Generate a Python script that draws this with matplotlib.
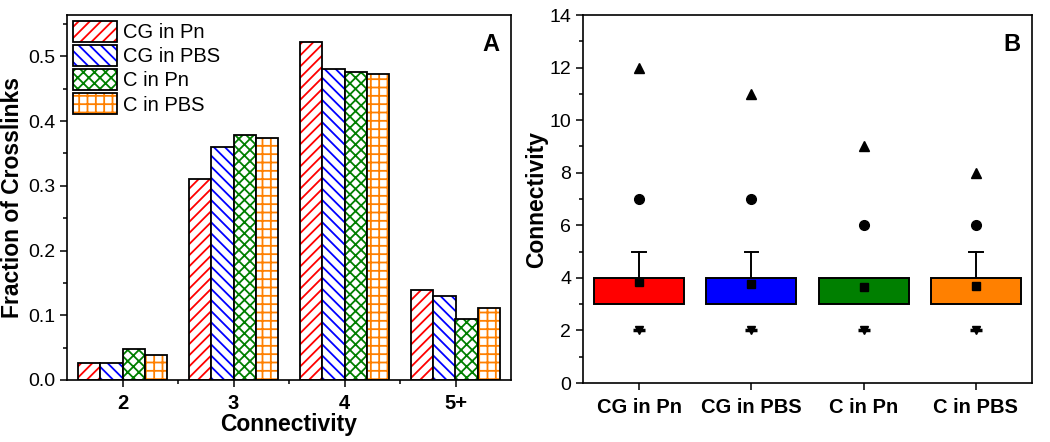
import matplotlib
matplotlib.use("Agg")
import matplotlib.pyplot as plt
import numpy as np
from matplotlib.ticker import MultipleLocator, FixedLocator
from matplotlib.patches import Patch
from matplotlib.legend_handler import HandlerTuple

plt.rcParams['font.family'] = ['Liberation Sans', 'DejaVu Sans']
plt.rcParams['hatch.linewidth'] = 1.3

# ---- Panel A data ----
conn_cats = ["2", "3", "4", "5+"]
series_names = ["CG in Pn", "CG in PBS", "C in Pn", "C in PBS"]
cg_pn = [0.026, 0.311, 0.522, 0.139]
cg_pbs = [0.027, 0.360, 0.481, 0.130]
c_pn = [0.048, 0.378, 0.476, 0.095]
c_pbs = [0.038, 0.374, 0.473, 0.112]

# ---- Panel B data ----
groups = ["CG in Pn", "CG in PBS", "C in Pn", "C in PBS"]
q1 = [3, 3, 3, 3]
q3 = [4, 4, 4, 4]
whisk_hi = [5, 5, 4, 5]
means = [3.85, 3.78, 3.66, 3.70]
p99 = [7, 7, 6, 6]
maxima = [12, 11, 9, 8]
minima = [2, 2, 2, 2]

colors = ["#ff0000", "#0000ff", "#007f00", "#ff8000"]
hatches = ["///", "\\\\\\", "xxx", "++"]

fig = plt.figure(figsize=(10.5, 4.42), dpi=100)
W, H = 1050, 442
axA = fig.add_axes([67 / W, 1 - 380 / H, (511 - 67) / W, (380 - 15) / H])
axB = fig.add_axes([583 / W, 1 - 383 / H, (1032 - 583) / W, (383 - 15) / H])

# Panel A
x = np.arange(1, len(conn_cats) + 1)
bw = 0.2
all_series = [cg_pn, cg_pbs, c_pn, c_pbs]
for i, (vals, name) in enumerate(zip(all_series, series_names)):
    axA.bar(x + (i - 1.5) * bw, vals, width=bw, facecolor="white",
            edgecolor=colors[i], hatch=hatches[i], linewidth=0)
    axA.bar(x + (i - 1.5) * bw, vals, width=bw, facecolor="none",
            edgecolor="black", linewidth=1.3)
axA.set_xlim(0.5, 4.5)
axA.set_ylim(0, 0.564)
axA.set_xticks(x)
axA.set_xticklabels(conn_cats, fontweight="bold", fontsize=14.5)
axA.xaxis.set_minor_locator(FixedLocator([1.5, 2.5, 3.5]))
yt = np.arange(0, 0.51, 0.1)
axA.set_yticks(yt)
axA.set_yticklabels([f"{v:.1f}" for v in yt], fontsize=14)
axA.yaxis.set_minor_locator(MultipleLocator(0.05))
axA.tick_params(which="major", direction="out", length=5, width=1.1)
axA.tick_params(which="minor", direction="out", length=3, width=1.1)
axA.tick_params(axis="x", which="major", pad=5)
axA.set_xlabel("Connectivity", fontweight="bold", fontsize=16.5, labelpad=0)
axA.set_ylabel("Fraction of Crosslinks", fontweight="bold", fontsize=16.5, labelpad=3)
for s in axA.spines.values():
    s.set_linewidth(1.2)

handles = [(Patch(facecolor="white", edgecolor=colors[i], hatch=hatches[i], linewidth=0),
            Patch(facecolor="none", edgecolor="black", linewidth=1.3)) for i in range(4)]
axA.legend(handles, series_names, loc="upper left", frameon=False, fontsize=14.5,
           handler_map={tuple: HandlerTuple(ndivide=1, pad=0)},
           handlelength=2.2, handleheight=1.2, handletextpad=0.3,
           labelspacing=0.15, borderaxespad=0.2, borderpad=0.1)
axA.text(0.975, 0.95, "A", transform=axA.transAxes, ha="right", va="top",
         fontsize=17, fontweight="bold")

# Panel B
xb = np.arange(1, len(groups) + 1)
for i in range(len(groups)):
    axB.bar(xb[i], q3[i] - q1[i], bottom=q1[i], width=0.8, color=colors[i],
            edgecolor="black", linewidth=1.4, zorder=2)
    if whisk_hi[i] > q3[i]:
        axB.plot([xb[i], xb[i]], [q3[i], whisk_hi[i]], color="black", lw=1.4, zorder=1)
        axB.plot([xb[i] - 0.06, xb[i] + 0.06], [whisk_hi[i], whisk_hi[i]],
                 color="black", lw=1.4, zorder=1)
axB.plot(xb, means, "s", color="black", ms=6, zorder=3)
axB.plot(xb, p99, "o", color="black", ms=7, zorder=3)
axB.plot(xb, maxima, "^", color="black", ms=7.5, zorder=3)
axB.plot(xb, minima, "v", color="black", ms=6, zorder=3)
axB.plot(xb, minima, "_", color="black", ms=8, mew=2.5, zorder=3)
axB.set_xlim(0.5, 4.5)
axB.set_ylim(0, 14)
axB.set_xticks(xb)
axB.set_xticklabels(groups, fontweight="bold", fontsize=14.5)
axB.yaxis.set_major_locator(MultipleLocator(2))
axB.yaxis.set_minor_locator(MultipleLocator(1))
axB.tick_params(axis="y", labelsize=14)
axB.tick_params(which="major", direction="out", length=5, width=1.1)
axB.tick_params(which="minor", direction="out", length=3, width=1.1)
axB.tick_params(axis="x", which="major", pad=6)
axB.set_ylabel("Connectivity", fontweight="bold", fontsize=16.5, labelpad=1)
for s in axB.spines.values():
    s.set_linewidth(1.2)
axB.text(0.975, 0.95, "B", transform=axB.transAxes, ha="right", va="top",
         fontsize=17, fontweight="bold")

fig.savefig("out.png", dpi=100)
